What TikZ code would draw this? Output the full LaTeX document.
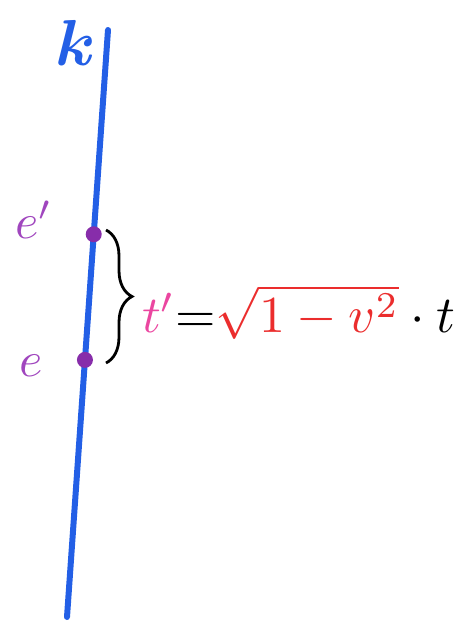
\documentclass[tikz,border=0pt]{standalone}
\usepackage{amsmath,bm}
\usetikzlibrary{decorations.pathreplacing}
\definecolor{lineblue}{RGB}{35,95,230}
\definecolor{dotpurple}{RGB}{135,45,170}
\definecolor{labpurple}{RGB}{160,70,190}
\definecolor{tmag}{RGB}{235,70,160}
\definecolor{sqred}{RGB}{235,45,45}
\begin{document}
\begin{tikzpicture}[x=1pt,y=-1pt,
  worldline/.style={draw=lineblue,line width=6pt,line cap=round},
  event/.style={circle,fill=dotpurple,inner sep=0pt,minimum size=16pt},
  evlabel/.style={text=labpurple,scale=5,transform shape,inner sep=0pt},
  bracestyle/.style={draw=black,line width=2.8pt,decorate,decoration={brace,amplitude=26pt}}]
\useasboundingbox (0,0) rectangle (457,621);
\coordinate (top) at (108,30);
\coordinate (bot) at (67,617);
\draw[worldline] (top) -- (bot);
\node[text=lineblue,scale=6.5,transform shape,inner sep=0pt] (k) at (76,43) {$\bm{k}$};
\path (top) -- (bot)
  node[event,pos=0.348] (ep) {}
  node[event,pos=0.562] (e) {};
\node[evlabel] (lep) at (34,220) {$e'$};
\node[evlabel] (le) at (31,366) {$e$};
\coordinate (b1) at (106,230);
\coordinate (b2) at (106,363);
\draw[bracestyle] (b1) -- (b2);
\node[inner sep=0pt,anchor=west,scale=5.2,transform shape] (f) at (141,312)
  {$\color{tmag}t'\color{black}{=}\color{sqred}\sqrt{1-v^2}\color{black}\cdot t$};
\end{tikzpicture}
\end{document}
